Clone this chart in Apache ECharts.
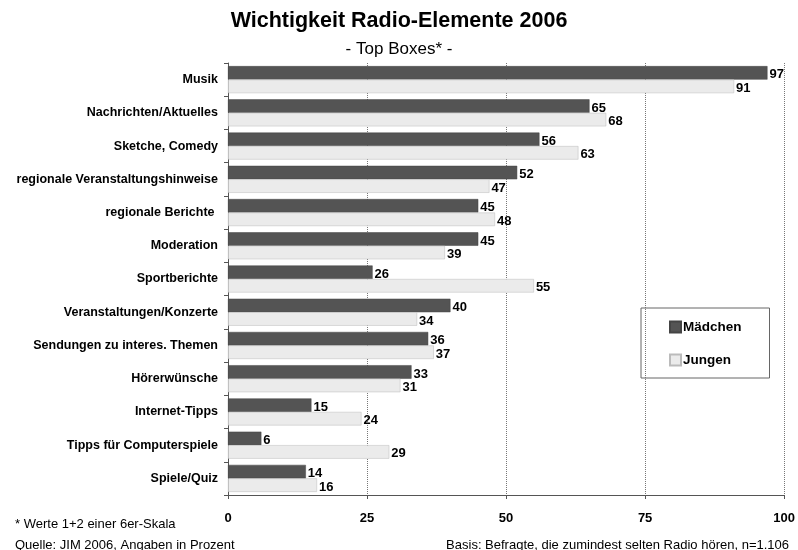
<!DOCTYPE html>
<html>
<head>
<meta charset="utf-8">
<script src="https://cdn.jsdelivr.net/npm/echarts@6/dist/echarts.min.js"></script>
<style>
  html, body { margin: 0; padding: 0; background: #fff; }
  #main { width: 798px; height: 550px; }
</style>
</head>
<body>
<div id="main"></div>
<script>
var categories = ['Musik', 'Nachrichten/Aktuelles', 'Sketche, Comedy', 'regionale Veranstaltungshinweise',
  'regionale Berichte ', 'Moderation', 'Sportberichte', 'Veranstaltungen/Konzerte',
  'Sendungen zu interes. Themen', 'Hörerwünsche', 'Internet-Tipps', 'Tipps für Computerspiele', 'Spiele/Quiz']
var maedchen = [97, 65, 56, 52, 45, 45, 26, 40, 36, 33, 15, 6, 14]
var jungen = [91, 68, 63, 47, 48, 39, 55, 34, 37, 31, 24, 29, 16]
var xTicks = [0, 25, 50, 75, 100]

var chartDom = document.getElementById('main')
var myChart = echarts.init(chartDom)
var font = 'Liberation Sans, Arial, sans-serif'

var labelStyle = {
  show: true,
  position: 'right',
  distance: 2,
  offset: [0, 2],
  color: '#000',
  fontWeight: 'bold',
  fontSize: 13,
  fontFamily: font
}

var option = {
  backgroundColor: '#fff',
  animation: false,
  title: [{
    text: 'Wichtigkeit Radio-Elemente 2006',
    left: 'center',
    top: 5,
    textStyle: { fontFamily: font, fontSize: 21.5, fontWeight: 'bold', color: '#000' }
  }, {
    text: '- Top Boxes* -',
    left: 'center',
    top: 36,
    textStyle: { fontFamily: font, fontSize: 17, fontWeight: 'normal', color: '#000' }
  }],
  legend: {
    orient: 'vertical',
    left: 641,
    top: 308,
    padding: [12, 28, 11, 28],
    itemGap: 19,
    itemWidth: 11,
    itemHeight: 11,
    borderColor: '#666',
    borderWidth: 1,
    icon: 'rect',
    textStyle: { fontFamily: font, fontSize: 13.5, fontWeight: 'bold', color: '#000', padding: [0, 0, 0, -3] },
    data: ['Mädchen', 'Jungen']
  },
  graphic: [{
    type: 'text', left: 15, top: 518,
    style: { text: '* Werte 1+2 einer 6er-Skala', font: '13px ' + font, fill: '#000' }
  }, {
    type: 'text', left: 15, top: 539,
    style: { text: 'Quelle: JIM 2006, Angaben in Prozent', font: '13px ' + font, fill: '#000' }
  }, {
    type: 'text', right: 9, top: 539,
    style: { text: 'Basis: Befragte, die zumindest selten Radio hören, n=1.106', font: '13px ' + font, fill: '#000' }
  }],
  grid: {
    left: 228,
    right: 10,
    top: 63,
    bottom: 55
  },
  xAxis: {
    type: 'value',
    min: 0,
    max: 100,
    interval: 25,
    axisLine: { show: true, lineStyle: { color: '#555' } },
    axisTick: { show: true, length: 4, lineStyle: { color: '#555' } },
    axisLabel: {
      margin: 17,
      color: '#000',
      fontWeight: 'bold',
      fontSize: 13,
      fontFamily: font,
      formatter: function (v) { return xTicks.indexOf(v) >= 0 ? String(v) : '' }
    },
    splitLine: { show: true, lineStyle: { type: 'dotted', color: '#777', width: 1 } }
  },
  yAxis: {
    type: 'category',
    inverse: true,
    data: categories,
    axisLine: { show: true, lineStyle: { color: '#555' } },
    axisTick: { show: true, length: 4, lineStyle: { color: '#555' } },
    axisLabel: {
      margin: 10,
      color: '#000',
      fontWeight: 'bold',
      fontSize: 12.5,
      fontFamily: font
    }
  },
  series: [{
    name: 'Mädchen',
    type: 'bar',
    data: maedchen,
    barWidth: 13.5,
    barGap: '0%',
    itemStyle: { color: '#545454', borderColor: '#444', borderWidth: 0.5 },
    label: labelStyle
  }, {
    name: 'Jungen',
    type: 'bar',
    data: jungen,
    barWidth: 13.5,
    itemStyle: { color: '#ebebeb', borderColor: '#bbb', borderWidth: 0.5 },
    label: labelStyle
  }]
}
option && myChart.setOption(option)
</script>
</body>
</html>
